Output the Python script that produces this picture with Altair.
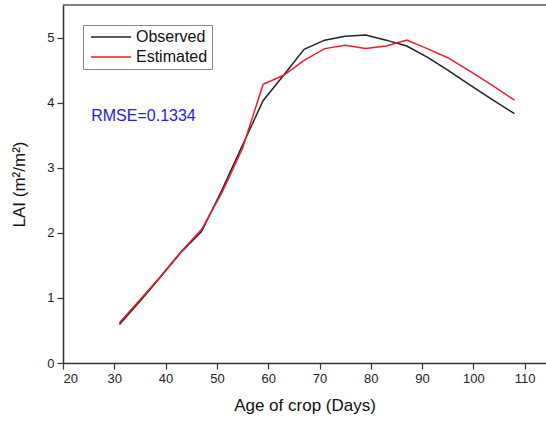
import altair as alt
import pandas as pd

days = [31, 35, 39, 43, 47, 51, 55, 59, 63, 67, 71, 75, 79, 83, 87, 91, 95, 99, 103, 108]
observed = [0.59, 0.95, 1.32, 1.70, 2.02, 2.66, 3.35, 4.03, 4.42, 4.82, 4.96, 5.02, 5.04, 4.96, 4.87, 4.70, 4.50, 4.29, 4.08, 3.83]
estimated = [0.62, 0.97, 1.33, 1.71, 2.05, 2.62, 3.30, 4.28, 4.42, 4.65, 4.83, 4.88, 4.83, 4.87, 4.96, 4.83, 4.69, 4.50, 4.30, 4.04]
series_names = ["Observed", "Estimated"]
series_colors = ["#222222", "#ee1c2c"]
x_ticks = [20, 25, 30, 35, 40, 45, 50, 55, 60, 65, 70, 75, 80, 85, 90, 95, 100, 105, 110]
y_ticks = [0, 0.5, 1, 1.5, 2, 2.5, 3, 3.5, 4, 4.5, 5]
annotation = "RMSE=0.1334"
ann_x = [25.5]
ann_y = [3.8]

rows = []
for d, o, e in zip(days, observed, estimated):
    rows.append({"day": d, "lai": o, "series": "Observed"})
    rows.append({"day": d, "lai": e, "series": "Estimated"})
df = pd.DataFrame(rows)

FONT = "Liberation Sans"

x_enc = alt.X(
    "day:Q",
    scale=alt.Scale(domain=[20, 114.15], nice=False, zero=False),
    axis=alt.Axis(
        title="Age of crop (Days)",
        values=x_ticks,
        labelExpr="datum.value % 10 === 0 ? format(datum.value, 'd') : ''",
        tickSize={"condition": {"test": "datum.value % 10 !== 0", "value": 3}, "value": 6},
        grid=False,
        domainColor="#333333",
        tickColor="#333333",
        domainWidth=1.5,
        tickWidth=1.2,
        labelFont=FONT,
        labelFontSize=13,
        labelColor="#222222",
        labelPadding=3,
        labelOverlap=False,
        titleFont=FONT,
        titleFontSize=17,
        titleFontWeight="normal",
        titleColor="#111111",
        titlePadding=12,
    ),
)
y_enc = alt.Y(
    "lai:Q",
    scale=alt.Scale(domain=[0, 5.5], nice=False),
    axis=alt.Axis(
        title="LAI (m²/m²)",
        values=y_ticks,
        labelExpr="datum.value % 1 === 0 ? format(datum.value, 'd') : ''",
        tickSize={"condition": {"test": "datum.value % 1 !== 0", "value": 3}, "value": 6},
        grid=False,
        domainColor="#333333",
        tickColor="#333333",
        domainWidth=1.5,
        tickWidth=1.2,
        labelFont=FONT,
        labelFontSize=13,
        labelColor="#222222",
        labelPadding=3,
        labelOverlap=False,
        titleFont=FONT,
        titleFontSize=17,
        titleFontWeight="normal",
        titleColor="#111111",
        titlePadding=18,
    ),
)

lines = alt.Chart(df).mark_line(strokeWidth=1.5).encode(
    x=x_enc,
    y=y_enc,
    color=alt.Color(
        "series:N",
        scale=alt.Scale(domain=series_names, range=series_colors),
        legend=alt.Legend(
            title=None,
            orient="none",
            legendX=20,
            legendY=20,
            symbolType="M-1,0L9,0",
            symbolSize=64,
            symbolStrokeWidth=1.5,
            labelFont=FONT,
            labelFontSize=16,
            labelColor="#111111",
            strokeColor="#888888",
            padding=4,
            rowPadding=4,
            labelOffset=33,
            fillColor="white",
        ),
    ),
    detail="series:N",
)

ann_df = pd.DataFrame({"x": ann_x, "y": ann_y, "t": [annotation]})
text = alt.Chart(ann_df).mark_text(
    align="left", baseline="middle", font=FONT, fontSize=16, color="#2222dd"
).encode(x="x:Q", y="y:Q", text="t:N")

top = alt.Chart(ann_df).mark_rule(color="#555555", strokeWidth=1.5).encode(
    y=alt.value(0)
)

chart = alt.layer(lines, text, top).properties(
    width=483,
    height=358,
    padding={"left": 63, "top": 5, "right": 0, "bottom": 62},
    autosize=alt.AutoSizeParams(type="none"),
).configure_view(stroke=None)

chart.save("out.html", embed_options={"renderer": "svg", "actions": False})
